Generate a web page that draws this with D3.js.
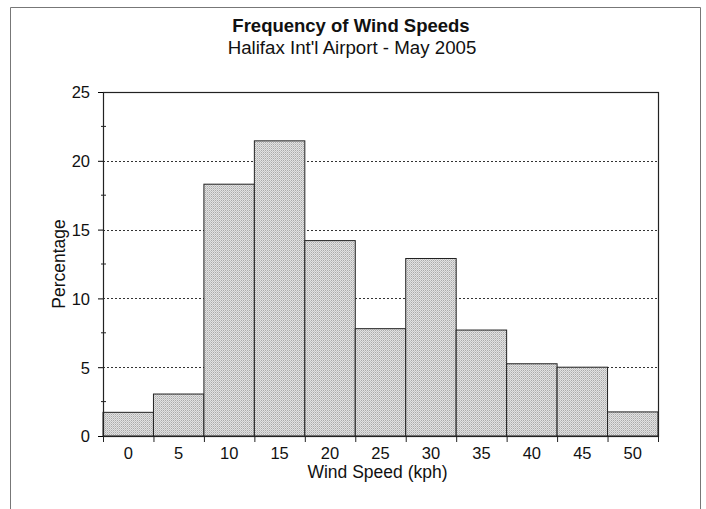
<!DOCTYPE html>
<html>
<head>
<meta charset="utf-8">
<script src="https://cdn.jsdelivr.net/npm/d3@7"></script>
<style>
  body { margin: 0; background: #fff; }
  text { font-family: "Liberation Sans", Arial, sans-serif; fill: #111; }
</style>
</head>
<body>
<script>
// data
var speeds = ["0", "5", "10", "15", "20", "25", "30", "35", "40", "45", "50"];
var percents = [1.72, 3.05, 18.3, 21.45, 14.2, 7.8, 12.9, 7.7, 5.25, 5.0, 1.75];
var yTicks = [0, 5, 10, 15, 20, 25];
var yMinor = [2.5, 7.5, 12.5, 17.5, 22.5];

var outerWidth = 706;
var outerHeight = 509;

var margin = {top: 92, right: 48, bottom: 73, left: 103},
    width = outerWidth - margin.left - margin.right,
    height = outerHeight - margin.top - margin.bottom;

var svg = d3.select('body').append('svg')
    .attr("width", outerWidth)
    .attr("height", outerHeight);

// stippled bar fill
var pat = svg.append("defs").append("pattern")
    .attr("id", "stipple")
    .attr("width", 2).attr("height", 2)
    .attr("patternUnits", "userSpaceOnUse");
pat.append("rect").attr("width", 2).attr("height", 2).attr("fill", "#e2e2e2");
pat.append("rect").attr("width", 1).attr("height", 1).attr("fill", "#aaaaaa");
pat.append("rect").attr("x", 1).attr("y", 1).attr("width", 1).attr("height", 1).attr("fill", "#c4c4c4");

// outer frame
svg.append("path")
    .attr("d", "M10.5,509 L10.5,7.5 L700.5,7.5 L700.5,509")
    .attr("fill", "none")
    .attr("stroke", "#777")
    .attr("stroke-width", 1);

// titles
svg.append("text")
    .attr("x", 351).attr("y", 31.5)
    .attr("text-anchor", "middle")
    .style("font-size", "18.5px").style("font-weight", "bold")
    .text("Frequency of Wind Speeds");
svg.append("text")
    .attr("x", 352).attr("y", 53.5)
    .attr("text-anchor", "middle")
    .style("font-size", "18.7px")
    .text("Halifax Int'l Airport - May 2005");

var g = svg.append("g")
    .attr("transform", `translate(${margin.left},${margin.top})`);

var x = d3.scaleBand()
    .domain(speeds)
    .range([0, width])
    .padding(0);

var y = d3.scaleLinear()
    .domain([0, 25])
    .range([height, 0]);

// dotted gridlines
g.selectAll(".grid")
    .data(yTicks.filter(function(d) { return d > 0 && d < 25; }))
  .enter().append("line")
    .attr("x1", 0).attr("x2", width)
    .attr("y1", function(d) { return Math.round(y(d)) + 0.5; })
    .attr("y2", function(d) { return Math.round(y(d)) + 0.5; })
    .attr("stroke", "#333")
    .attr("stroke-width", 1)
    .attr("stroke-dasharray", "2,2");

// bars
g.selectAll(".bar")
    .data(speeds)
  .enter().append("rect")
    .attr("class", "bar")
    .attr("x", function(d) { return x(d); })
    .attr("width", x.bandwidth())
    .attr("y", function(d, i) { return y(percents[i]); })
    .attr("height", function(d, i) { return height - y(percents[i]); })
    .attr("fill", "url(#stipple)")
    .attr("stroke", "#222")
    .attr("stroke-width", 1);

// plot border
g.append("rect")
    .attr("x", 0.5).attr("y", 0.5)
    .attr("width", width).attr("height", height)
    .attr("fill", "none")
    .attr("stroke", "#222")
    .attr("stroke-width", 1.2);

// y axis
var yAxis = g.append("g")
    .call(d3.axisLeft(y).tickValues(yTicks).tickSize(5).tickPadding(8));
yAxis.select(".domain").remove();
yAxis.selectAll("text").style("font-size", "16.5px").attr("dy", "0.36em");

g.selectAll(".minor")
    .data(yMinor)
  .enter().append("line")
    .attr("x1", -2).attr("x2", 3)
    .attr("y1", function(d) { return y(d); })
    .attr("y2", function(d) { return y(d); })
    .attr("stroke", "#222");

// x axis: ticks at bar edges, labels centred
var edges = speeds.map(function(d) { return x(d); }).concat([width]);
g.selectAll(".xtick")
    .data(edges)
  .enter().append("line")
    .attr("x1", function(d) { return d + 0.5; })
    .attr("x2", function(d) { return d + 0.5; })
    .attr("y1", height).attr("y2", height + 6)
    .attr("stroke", "#222");

g.selectAll(".xlabel")
    .data(speeds)
  .enter().append("text")
    .attr("x", function(d) { return x(d) + x.bandwidth() / 2; })
    .attr("y", height + 22.5)
    .attr("text-anchor", "middle")
    .style("font-size", "16.5px")
    .text(function(d) { return d; });

// axis titles
g.append("text")
    .attr("x", 377.5 - margin.left).attr("y", height + 41.5)
    .attr("text-anchor", "middle")
    .style("font-size", "17.5px")
    .text("Wind Speed (kph)");

g.append("text")
    .attr("transform", `translate(-38,${height / 2}) rotate(-90)`)
    .attr("text-anchor", "middle")
    .style("font-size", "17.5px")
    .text("Percentage");
</script>
</body>
</html>
